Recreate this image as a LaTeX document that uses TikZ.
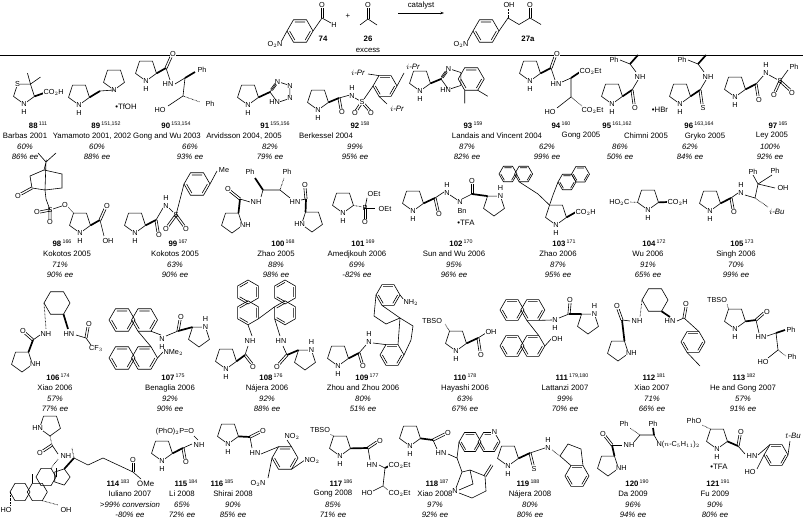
\documentclass[tikz,border=0pt]{standalone}
\usepackage{fontspec}
\setmainfont{Liberation Sans}
\usetikzlibrary{shapes.geometric,calc,arrows.meta}
\tikzset{
 pent5/.style={regular polygon, regular polygon sides=5, minimum size=22pt, draw, inner sep=0pt, outer sep=0pt, line width=0.6pt},
 hex6/.style={regular polygon, regular polygon sides=6, minimum size=24pt, draw, inner sep=0pt, outer sep=0pt, line width=0.6pt},
 bd/.style={line width=0.6pt},
 wdg/.style={line width=1.7pt},
 hsh/.style={line width=0.7pt, dash pattern=on 0.6pt off 0.8pt},
 dbl/.style={line width=0.6pt, to path={($(\tikztostart)!1.1pt!90:(\tikztotarget)$)--($(\tikztotarget)!1.1pt!-90:(\tikztostart)$) ($(\tikztostart)!1.1pt!-90:(\tikztotarget)$)--($(\tikztotarget)!1.1pt!90:(\tikztostart)$)}},
 atm/.style={fill=white, inner sep=0.4pt, font=\fontsize{7.3}{8}\selectfont},
 lb/.style={inner sep=0pt, font=\fontsize{7.8}{9}\selectfont},
 it/.style={inner sep=0pt, font=\fontsize{7.8}{9}\selectfont\itshape},
 nm/.style={inner sep=0pt, font=\fontsize{7.8}{9}\selectfont\bfseries}
}
\newcommand\pyr[2]{\node[pent5,rotate=180] (#1) at (#2) {};}
\newcommand\pen[4]{\node[pent5,minimum size=#3,rotate=#4] (#1) at (#2) {};}
\newcommand\hexa[4]{\node[hex6,minimum size=#3,rotate=#4] (#1) at (#2) {};}
\newcommand\arom[1]{\draw[bd] ($(#1.corner 1)!0.2!(#1.center)$)--($(#1.corner 2)!0.2!(#1.center)$) ($(#1.corner 3)!0.2!(#1.center)$)--($(#1.corner 4)!0.2!(#1.center)$) ($(#1.corner 5)!0.2!(#1.center)$)--($(#1.corner 6)!0.2!(#1.center)$);}
\newcommand\atx[2]{\node[atm] at (#1) {#2};}
\newcommand\NH[1]{\node[atm] at (#1.corner 1) {N}; \node[atm] at ($(#1.corner 1)+(0,7.5)$) {H};}
\newcommand\entry[9]{%
 \node[nm] at ({#1},{#2}) {#3\,\raisebox{3pt}{\fontsize{5.3}{6}\selectfont\mdseries #4}};
 \node[lb] at ({#5},{#2+11}) {#6};
 \node[it] at ({#7},{#2+21.5}) {#8};
 \node[it] at ({#7},{#2+32}) {#9};}
\begin{document}
\begin{tikzpicture}[x=1pt,y=-1pt]
\useasboundingbox (0,0) rectangle (803,521);
% ---------- reaction scheme
\hexa{r74}{300,31}{26pt}{0}\arom{r74}
\draw[bd] (r74.corner 6)--(322,18); \draw[dbl] (322,18) to (322,8); \atx{322,5}{O}
\draw[bd] (322,18)--(331,23); \atx{334,25}{H}
\draw[bd] (r74.corner 3)--(281,42); \node[atm] at (275,44) {O$_2$N};
\node[nm] (n74) at (323,39) {74};
\node[lb] at (348,16) {+};
\draw[bd] (360,25)--(368,19)--(377,25); \draw[dbl] (368,19) to (368,8); \atx{368,5}{O}
\node[nm] (n26) at (368,39) {26};
\node[lb] at (368,50) {excess};
\coordinate (a1) at (398,13); \coordinate (a2) at (444,13);
\draw[bd,-{Stealth[length=3.5pt,width=2.5pt]}] (a1)--(a2);
\node[lb] at (421,5) {catalyst};
\hexa{r27}{486,31}{26pt}{0}\arom{r27}
\draw[bd] (r27.corner 6)--(508,18)--(519,24.5)--(530,18)--(541,24.5);
\draw[hsh] (508,18)--(508,9); \atx{509,5}{OH}
\draw[dbl] (530,18) to (530,8); \atx{530,5}{O}
\draw[bd] (r27.corner 3)--(467,42); \node[atm] at (461,44) {O$_2$N};
\node[nm] at (528,39) {27a};
\draw[line width=0.6pt] (0,55)--(803,55);
% ---------- row 1
\pyr{p88}{24,93}\NH{p88}\atx{p88.corner 4}{S}
\draw[bd] (p88.corner 3)--++(-3,-11) (p88.corner 3)--++(10,-7);
\draw[wdg] (p88.corner 2)--(44,93); \node[atm,anchor=west] at (43,92) {CO$_2$H};
\pyr{p89a}{79,94}\NH{p89a}
\pyr{p89b}{114,79}\atx{p89b.corner 1}{N}
\draw[wdg] (p89a.corner 2)--(100,91); \draw[bd] (100,91)--(p89b.corner 1);
\node[lb] at (126,107) {\textbullet TfOH};
\pyr{p90}{146,70}\NH{p90}
\draw[wdg] (p90.corner 2)--(166,68); \draw[dbl] (166,68) to (171,57); \atx{173,54}{O}
\draw[bd] (166,68)--(170,80); \atx{168,84}{HN}
\draw[bd] (175,84)--(185,78); \draw[wdg] (185,78)--(195,72); \atx{202,70}{Ph}
\draw[bd] (185,78)--(183,96); \draw[bd] (183,96)--(168,106); \atx{160,110}{HO}
\draw[hsh] (183,96)--(200,102); \atx{210,104}{Ph}
\pyr{p91}{248,94}\NH{p91}
\pen{t91}{281,92}{22pt}{90}
\draw[wdg] (p91.corner 2)--(t91.corner 1);
\draw[dbl] ($(t91.corner 1)!0.2!(t91.corner 5)$) to ($(t91.corner 5)!0.25!(t91.corner 1)$);
\atx{t91.corner 5}{N}\atx{t91.corner 4}{N}\atx{t91.corner 3}{N}\node[atm] at ($(t91.corner 2)+(-3,0)$) {HN};
\pyr{p92}{318,99}\NH{p92}
\draw[wdg] (p92.corner 2)--(339,98); \draw[dbl] (339,98) to (341,109); \atx{342,112}{O}
\draw[bd] (339,98)--(350,95); \atx{352,96}{N}\atx{352,88}{H}
\hexa{h92}{385,86}{24pt}{0}\arom{h92}
\draw[bd] (355,98)--(362,102)--(h92.corner 3);
\draw[dbl] (362,102) to (356,111) (362,102) to (370,111);
\atx{362,102}{S}\atx{355,113}{O}\atx{371,113}{O}
\draw[bd] (h92.corner 2)--(368,74); \node[it] at (358,73) {$i$-Pr};
\draw[bd] (h92.corner 6)--(404,73); \node[it] at (413,67) {$i$-Pr};
\draw[bd] (h92.corner 4)--(387,104); \node[it] at (397,109) {$i$-Pr};
\pyr{p93}{420,80}\NH{p93}
\pen{i93}{452,79}{22pt}{90}
\draw[wdg] (p93.corner 2)--(i93.corner 1);
\draw[dbl] ($(i93.corner 1)!0.15!(i93.corner 5)$) to ($(i93.corner 5)!0.3!(i93.corner 1)$);
\atx{i93.corner 5}{N}\node[atm] at ($(i93.corner 2)+(-3,1)$) {HN};
\hexa{b93}{471.2,79}{26pt}{0}\arom{b93}
\draw[bd] (b93.corner 5)--++(10,6) (b93.corner 4)--++(0,13);
\pyr{p94}{530,70}\NH{p94}
\draw[wdg] (p94.corner 2)--(551,68); \draw[dbl] (551,68) to (555,57); \atx{557,54}{O}
\draw[bd] (551,68)--(555,80); \atx{556,84}{HN}
\draw[bd] (562,82)--(571,78); \draw[wdg] (571,78)--(580,72); \node[atm,anchor=west] at (579,71) {CO$_2$Et};
\draw[bd] (571,78)--(571,97)--(557,108); \atx{550,112}{HO}
\draw[hsh] (571,97)--(582,106); \node[atm,anchor=west] at (581,110) {CO$_2$Et};
\pyr{p95}{612,93}\NH{p95}
\draw[wdg] (p95.corner 2)--(632,90); \draw[dbl] (632,90) to (634,104); \atx{635,108}{O}
\draw[bd] (632,90)--(638,80); \atx{640,77}{NH}
\draw[bd] (636,72)--(630,64); \draw[bd] (630,64)--(620,60); \atx{614,60}{Ph}
\draw[wdg] (630,64)--(638,55);
\node[lb] at (660,110) {\textbullet HBr};
\pyr{p96}{680,93}\NH{p96}
\draw[wdg] (p96.corner 2)--(700,90); \draw[dbl] (700,90) to (702,104); \atx{703,108}{S}
\draw[bd] (700,90)--(706,80); \atx{708,77}{NH}
\draw[bd] (704,72)--(698,64); \draw[bd] (698,64)--(688,60); \atx{682,60}{Ph}
\draw[wdg] (698,64)--(706,55);
\pyr{p97}{735,86}\NH{p97}
\draw[wdg] (p97.corner 2)--(756,84); \draw[dbl] (756,84) to (758,96); \atx{759,100}{O}
\draw[bd] (756,84)--(764,75); \atx{766,73}{N}\atx{766,65}{H}
\draw[bd] (769,75)--(780,81); \atx{780,81}{S}
\draw[dbl] (780,81) to (775,92) (780,81) to (790,90); \atx{774,95}{O}\atx{792,93}{O}
\draw[bd] (780,81)--(788,70); \atx{794,67}{Ph}
\entry{38}{125}{88}{111}{25}{Barbas 2001}{25}{60\%}{86\% ee}
\entry{106}{125}{89}{151,152}{92}{Yamamoto 2001, 2002}{97}{60\%}{88\% ee}
\entry{176}{125}{90}{153,154}{167}{Gong and Wu 2003}{190}{66\%}{93\% ee}
\entry{275}{125}{91}{155,156}{244}{Arvidsson 2004, 2005}{270}{82\%}{79\% ee}
\entry{360}{125}{92}{158}{326}{Berkessel 2004}{355}{99\%}{95\% ee}
\entry{473}{125}{93}{159}{497}{Landais and Vincent 2004}{467}{87\%}{82\% ee}
\entry{561}{125}{94}{160}{581}{Gong 2005}{547}{62\%}{99\% ee}
\entry{617}{125}{95}{161,162}{646}{Chimni 2005}{620}{86\%}{50\% ee}
\entry{699}{125}{96}{163,164}{705}{Gryko 2005}{690}{62\%}{84\% ee}
\entry{778}{125}{97}{165}{772}{Ley 2005}{770}{100\%}{92\% ee}
% ---------- row 2
\pyr{p98}{80,222}\NH{p98}
\draw[wdg] (p98.corner 2)--(100,220); \draw[dbl] (100,220) to (105,209); \atx{107,206}{O}
\draw[bd] (100,220)--(104,236); \atx{108,241}{OH}
\draw[hsh] (p98.corner 4)--(67,206); \atx{65,205}{O}
\draw[bd] (62,206)--(50,210); \atx{50,210}{S}
\draw[dbl] (50,210) to (40,212) (50,210) to (50,220); \atx{37,212}{O}\atx{50,222}{O}
\draw[bd] (50,210)--(46,199)--(45,190);
\draw[bd] (45,190)--(32,188)--(30,176)--(44,170)--(62,174)--(62,188)--(45,190) (45,190)--(46,162)--(44,170) (46,162)--(38,153) (46,162)--(56,153);
\draw[dbl] (32,188) to (21,194); \atx{18,196}{O}
\pyr{p99}{135,222}\NH{p99}
\draw[wdg] (p99.corner 2)--(156,220); \draw[dbl] (156,220) to (158,232); \atx{159,235}{O}
\draw[bd] (156,220)--(163,208); \atx{166,206}{N}\atx{166,198}{H}
\draw[bd] (169,208)--(176,215); \atx{176,215}{S}
\draw[dbl] (176,215) to (168,226) (176,215) to (184,226); \atx{166,229}{O}\atx{186,229}{O}
\hexa{h99}{197,184}{26pt}{0}\arom{h99}
\draw[bd] (176,215)--(h99.corner 3); \draw[bd] (h99.corner 6)--(217,171); \atx{224,170}{Me}
\pyr{p100a}{232,222}\node[atm] at ($(p100a.corner 2)+(3,0)$) {NH};
\draw[wdg] (p100a.corner 3)--(240,199); \draw[dbl] (240,199) to (230,191); \atx{228,189}{O}
\draw[bd] (240,199)--(250,202); \atx{256,202}{NH}
\draw[bd] (261,197)--(263,190)--(280,190)--(290,198); \atx{295,202}{HN}
\draw[wdg] (263,190)--(255,178); \atx{250,172}{Ph}
\draw[hsh] (280,190)--(284,178); \atx{287,172}{Ph}
\draw[bd] (301,200)--(306,199); \draw[dbl] (306,199) to (305,188); \atx{305,185}{O}
\pyr{p100b}{312,221}\node[atm] at ($(p100b.corner 5)+(-2,0)$) {HN};
\draw[wdg] (306,199)--(p100b.corner 4);
\pyr{p101}{343,202}\NH{p101}
\draw[hsh] (p101.corner 2)--(363,207); \atx{365,208}{P}
\draw[bd] (365,208)--(367,198); \atx{374,194}{OEt}
\draw[bd] (365,208)--(375,208); \atx{385,209}{OEt}
\draw[dbl] (365,208) to (365,219); \atx{365,222}{O}
\pyr{p102a}{413,200}\NH{p102a}
\draw[wdg] (p102a.corner 2)--(435,198); \draw[dbl] (435,198) to (438,211); \atx{439,214}{O}
\draw[bd] (435,198)--(444,192); \atx{447,193}{N}\atx{447,185}{H}
\draw[bd] (450,195)--(459,201); \atx{460,202}{N}\atx{462,211}{Bn}
\draw[bd] (462,199)--(472,194); \draw[dbl] (472,194) to (472,184); \atx{472,181}{O}
\pyr{p102b}{494,205}\atx{p102b.corner 3}{N}\node[atm] at ($(p102b.corner 3)+(0,-8)$) {H};
\draw[wdg] (472,194)--(p102b.corner 4);
\node[lb] at (466,223) {\textbullet TFA};
\pyr{p103}{556,214}\NH{p103}
\draw[wdg] (p103.corner 2)--(576,212); \node[atm,anchor=west] at (575,212) {CO$_2$H};
\hexa{n103a}{508,174}{18pt}{0}\hexa{n103b}{523.6,174}{18pt}{0}\arom{n103a}\arom{n103b}
\draw[bd] (n103b.corner 4)--(538,194)--(p103.corner 4);
\hexa{n103c}{567,182}{18pt}{0}\hexa{n103d}{580.5,174.2}{18pt}{0}\arom{n103c}\arom{n103d}
\draw[bd] (n103c.corner 3)--(553,195)--(p103.corner 4);
\pyr{p104}{648,199}\NH{p104}
\draw[wdg] (p104.corner 2)--(668,202); \node[atm,anchor=west] at (667,202) {CO$_2$H};
\draw[hsh] (p104.corner 5)--(629,202); \node[atm,anchor=east] at (630,202) {HO$_2$C};
\pyr{p105}{710,200}\NH{p105}
\draw[wdg] (p105.corner 2)--(731,198); \draw[dbl] (731,198) to (733,209); \atx{734,212}{O}
\draw[bd] (731,198)--(738,193); \atx{741,193}{N}\atx{741,185}{H}
\draw[bd] (745,195)--(755,198)--(758,184);
\draw[hsh] (755,198)--(768,207); \node[it] at (777,212) {$i$-Bu};
\draw[bd] (758,184)--(753,175) (758,184)--(772,175) (758,184)--(775,188);
\atx{753,172}{Ph}\atx{775,171}{Ph}\atx{783,188}{OH}
\entry{62}{243}{98}{166}{67}{Kokotos 2005}{60}{71\%}{90\% ee}
\entry{178}{243}{99}{167}{175}{Kokotos 2005}{175}{63\%}{90\% ee}
\entry{283}{243}{100}{168}{276}{Zhao 2005}{276}{88\%}{98\% ee}
\entry{363}{243}{101}{169}{357}{Amedjkouh 2006}{357}{69\%}{-82\% ee}
\entry{461}{243}{102}{170}{454}{Sun and Wu 2006}{454}{95\%}{96\% ee}
\entry{564}{243}{103}{171}{558}{Zhao 2006}{558}{87\%}{95\% ee}
\entry{654}{243}{104}{172}{648}{Wu 2006}{648}{91\%}{65\% ee}
\entry{742}{243}{105}{173}{736}{Singh 2006}{736}{70\%}{99\% ee}
% ---------- row 3
\hexa{h106}{57,303}{26pt}{0}
\draw[hsh] (h106.corner 3)--(46,329); \atx{46,334}{NH}
\draw[wdg] (h106.corner 5)--(68,329); \atx{69,334}{HN}
\draw[bd] (40,335)--(33,340); \draw[dbl] (33,340) to (25,333); \atx{23,331}{O}
\pyr{p106}{22,361}\node[atm] at ($(p106.corner 2)+(3,0)$) {NH};
\draw[wdg] (p106.corner 3)--(33,340);
\draw[bd] (76,335)--(86,338); \draw[dbl] (86,338) to (88,327); \atx{89,324}{O}
\draw[bd] (86,338)--(91,345); \node[atm] at (96,348) {CF$_3$};
\hexa{u107a}{122,320}{26pt}{0}\hexa{u107b}{144.5,320}{26pt}{0}\arom{u107a}\arom{u107b}
\hexa{l107a}{122,358}{26pt}{0}\hexa{l107b}{144.5,358}{26pt}{0}\arom{l107a}\arom{l107b}
\draw[bd] (u107b.corner 4)--(l107b.corner 1);
\draw[bd] (u107b.corner 5)--(161,335); \atx{162,339}{N}\atx{162,347}{H}
\draw[bd] (166,336)--(178,331); \draw[dbl] (178,331) to (180,320); \atx{181,317}{O}
\pyr{p107}{199,336}\atx{p107.corner 3}{N}\node[atm] at ($(p107.corner 3)+(0,-8)$) {H};
\draw[wdg] (178,331)--(p107.corner 4);
\draw[bd] (l107b.corner 6)--(163,352); \node[atm,anchor=west] at (163,352) {NMe$_2$};
\hexa{a108a}{248,292}{24pt}{30}\hexa{a108b}{248,312.8}{24pt}{30}\arom{a108a}\arom{a108b}
\hexa{b108a}{285,292}{24pt}{30}\hexa{b108b}{285,312.8}{24pt}{30}\arom{b108a}\arom{b108b}
\draw[bd] (a108b.corner 5)--(b108b.corner 2);
\draw[bd] (a108b.corner 4)--(252,336); \atx{250,341}{NH}
\draw[bd] (b108b.corner 3)--(280,336); \atx{281,341}{HN}
\draw[bd] (248,346)--(245,355); \draw[dbl] (245,355) to (252,364); \atx{253,367}{O}
\pyr{p108a}{226,358}\NH{p108a}
\draw[wdg] (245,355)--(p108a.corner 2);
\draw[bd] (283,346)--(287,355); \draw[dbl] (287,355) to (279,364); \atx{277,367}{O}
\pyr{p108b}{305,359}\atx{p108b.corner 3}{N}\node[atm] at ($(p108b.corner 3)+(0,-8)$) {H};
\draw[wdg] (287,355)--(p108b.corner 4);
\pyr{p109}{338,355}\NH{p109}
\draw[wdg] (p109.corner 2)--(359,353); \draw[dbl] (359,353) to (362,363); \atx{363,366}{O}
\draw[bd] (359,353)--(366,345); \atx{369,342}{N}\atx{369,334}{H}
\hexa{h109a}{392,355}{24pt}{0}\arom{h109a}
\draw[bd] (373,343)--(h109a.corner 2);
\hexa{h109b}{388,295}{24pt}{0}\arom{h109b}
\draw[bd] (h109b.corner 6)--(404,300); \node[atm,anchor=west] at (403,302) {NH$_2$};
\draw[bd] (h109b.corner 4)--(400,318) (h109b.corner 3)--(374,316)--(386,324)--(400,318);
\draw[bd] (400,318)--(h109a.corner 1) (400,318)--(413,326)--(411,340)--(h109a.corner 6);
\pyr{p110}{456,340}\NH{p110}
\draw[hsh] (p110.corner 4)--(445,324); \node[atm] at (432,321) {TBSO};
\draw[wdg] (p110.corner 2)--(478,338); \draw[bd] (478,338)--(486,333); \atx{491,332}{OH}
\draw[dbl] (478,338) to (480,351); \atx{481,355}{O}
\hexa{u111a}{512,310}{24pt}{0}\hexa{u111b}{532.8,310}{24pt}{0}\arom{u111a}\arom{u111b}
\hexa{l111a}{512,346}{24pt}{0}\hexa{l111b}{532.8,346}{24pt}{0}\arom{l111a}\arom{l111b}
\draw[bd] (u111b.corner 4)--(l111b.corner 1);
\draw[bd] (u111b.corner 5)--(552,320); \atx{555,320}{N}\atx{555,328}{H}
\draw[bd] (559,318)--(569,314); \draw[dbl] (569,314) to (570,303); \atx{570,300}{O}
\pyr{p111}{588,323}\atx{p111.corner 3}{N}\node[atm] at ($(p111.corner 3)+(0,-8)$) {H};
\draw[wdg] (569,314)--(p111.corner 4);
\draw[bd] (l111b.corner 6)--(552,338); \node[atm,anchor=west] at (551,339) {OH};
\hexa{h112}{655,300}{26pt}{0}
\draw[hsh] (h112.corner 3)--(640,317); \atx{637,321}{NH}
\draw[wdg] (h112.corner 5)--(670,317); \atx{670,321}{HN}
\draw[bd] (630,321)--(622,320); \draw[dbl] (622,320) to (618,309); \atx{617,306}{O}
\pyr{p112}{618,350}\node[atm] at ($(p112.corner 2)+(3,0)$) {NH};
\draw[wdg] (p112.corner 3)--(622,320);
\draw[bd] (677,321)--(684,318); \draw[dbl] (684,318) to (686,307); \atx{686,304}{O}
\hexa{h112b}{693,342}{24pt}{0}\arom{h112b}
\draw[bd] (684,318)--(h112b.corner 1) (h112b.corner 4)--(700,366);
\pyr{p113}{735,318}\NH{p113}
\draw[hsh] (p113.corner 4)--(727,304); \node[atm] at (717,300) {TBSO};
\draw[wdg] (p113.corner 2)--(756,320); \draw[dbl] (756,320) to (764,313); \atx{767,312}{O}
\draw[bd] (756,320)--(759,333); \atx{761,337}{HN}
\draw[bd] (767,336)--(776,333); \draw[wdg] (776,333)--(785,330); \atx{791,330}{Ph}
\draw[bd] (776,333)--(778,350)--(768,358); \atx{763,362}{HO}
\draw[hsh] (778,350)--(786,356); \atx{792,357}{Ph}
\entry{58}{377}{106}{174}{55}{Xiao 2006}{55}{57\%}{77\% ee}
\entry{173}{377}{107}{175}{170}{Benaglia 2006}{170}{92\%}{90\% ee}
\entry{271}{377}{108}{176}{267}{N\'ajera 2006}{267}{92\%}{88\% ee}
\entry{367}{377}{109}{177}{363}{Zhou and Zhou 2006}{363}{80\%}{51\% ee}
\entry{465}{377}{110}{178}{465}{Hayashi 2006}{465}{63\%}{67\% ee}
\entry{572}{377}{111}{179,180}{565}{Lattanzi 2007}{565}{99\%}{70\% ee}
\entry{654}{377}{112}{181}{652}{Xiao 2007}{652}{71\%}{66\% ee}
\entry{744}{377}{113}{182}{743}{He and Gong 2007}{743}{57\%}{91\% ee}
% ---------- row 4
\hexa{s114a}{20,492}{20pt}{0}\hexa{s114b}{37.3,492}{20pt}{0}\hexa{s114c}{46,477}{20pt}{0}
\node[pent5,minimum size=17pt,rotate=-90] (s114d) at (61.6,477) {};
\draw[hsh] (s114a.corner 3)--(10,505); \atx{6,510}{HO}
\draw[hsh] (s114b.corner 5)--(58,505); \atx{66,510}{OH}
\draw[bd] (s114b.corner 2)--++(0,-9) (s114c.corner 6)--++(0,-9);
\draw[hsh] (s114c.corner 1)--(58,459); \atx{66,456}{NH}
\draw[bd] (58,454)--(52,445); \draw[dbl] (52,445) to (43,451); \atx{40,453}{O}
\pyr{p114}{50,425}\node[atm] at ($(p114.corner 5)+(-2,0)$) {HN};
\draw[hsh] (52,445)--(p114.corner 1);
\draw[wdg] (s114d.corner 2)--(74,458); \draw[hsh] (74,458)--(72,448);
\draw[bd] (74,458)--(88,465)--(103,458)--(118,465)--(133,472); \draw[dbl] (133,472) to (133,463); \atx{133,460}{O}
\draw[bd] (133,472)--(141,479); \node[lb,anchor=west] at (137,484) {OMe};
\pyr{p115}{162,450}\NH{p115}
\draw[wdg] (p115.corner 2)--(183,448); \draw[dbl] (183,448) to (185,459); \atx{186,462}{O}
\draw[bd] (183,448)--(192,444); \atx{199,445}{NH}
\draw[bd] (198,440)--(193,435); \node[atm] at (175,432) {(PhO)$_2$P=O};
\pyr{p116}{228,433}\NH{p116}
\draw[wdg] (p116.corner 2)--(250,437); \draw[dbl] (250,437) to (260,432); \atx{263,431}{O}
\draw[bd] (250,437)--(252,448); \atx{255,453}{HN}
\hexa{h116}{285,458}{26pt}{0}\arom{h116}
\draw[bd] (261,454)--(h116.corner 2);
\draw[bd] (h116.corner 1)--(287,440); \node[atm,anchor=west] at (284,436) {NO$_2$};
\draw[bd] (h116.corner 5)--(305,460); \node[atm,anchor=west] at (304,460) {NO$_2$};
\draw[bd] (h116.corner 3)--(268,478); \node[atm] at (258,483) {O$_2$N};
\pyr{p117}{340,445}\NH{p117}
\draw[hsh] (p117.corner 4)--(330,434); \node[atm] at (320,430) {TBSO};
\draw[wdg] (p117.corner 2)--(368,448); \draw[dbl] (368,448) to (377,442); \atx{380,441}{O}
\draw[bd] (368,448)--(370,460); \atx{372,465}{HN}
\draw[bd] (379,465)--(385,468); \draw[wdg] (385,468)--(389,466); \node[atm,anchor=west] at (388,465) {CO$_2$Et};
\draw[bd] (385,468)--(383,486)--(373,491); \atx{367,493}{HO}
\draw[hsh] (383,486)--(389,491); \node[atm,anchor=west] at (388,493) {CO$_2$Et};
\pyr{p118}{410,435}\NH{p118}
\draw[wdg] (p118.corner 2)--(433,440); \draw[dbl] (433,440) to (445,434); \atx{448,433}{O}
\draw[bd] (433,440)--(437,449); \atx{441,453}{HN}
\hexa{q118a}{470,442}{22pt}{0}\hexa{q118b}{489,442}{22pt}{0}\arom{q118a}\arom{q118b}
\atx{q118b.corner 1}{N}
\draw[bd] (448,454)--(457,458)--(q118a.corner 3);
\draw[bd] (457,458)--(462,472)--(456,488); \atx{455,491}{N}
\draw[bd] (459,493)--(472,498)--(486,491)--(485,476)--(470,470)--(462,472) (470,470)--(473,484)--(459,490);
\draw[dbl] (485,476) to (492,465);
\pyr{p119}{508,455}\NH{p119}
\draw[wdg] (p119.corner 2)--(530,453); \draw[dbl] (530,453) to (533,465); \atx{534,469}{S}
\draw[bd] (530,453)--(545,448); \atx{548,448}{N}\atx{548,440}{H}
\hexa{h119}{577,476}{24pt}{0}\arom{h119}
\draw[hsh] (552,450)--(560,456);
\draw[bd] (560,456)--(h119.corner 2) (560,456)--(568,444)--(581,449)--(h119.corner 1);
\pyr{p120}{608,465}\node[atm] at ($(p120.corner 2)+(3,0)$) {NH};
\draw[wdg] (p120.corner 3)--(612,445); \draw[dbl] (612,445) to (605,436); \atx{603,434}{O}
\draw[bd] (612,445)--(622,445); \atx{629,445}{NH}
\draw[bd] (634,442)--(640,435)--(654,435)--(658,442);
\draw[hsh] (640,435)--(630,428); \atx{624,424}{Ph}
\draw[wdg] (654,435)--(653,428); \atx{653,424}{Ph}
\node[atm,anchor=west] at (656,445) {N($n$-C$_5$H$_{11}$)$_2$};
\pyr{p121}{717,438}\NH{p121}
\draw[hsh] (p121.corner 4)--(702,425); \node[atm] at (694,421) {PhO};
\draw[wdg] (p121.corner 2)--(738,446); \draw[dbl] (738,446) to (740,435); \atx{741,432}{O}
\draw[bd] (738,446)--(745,454); \atx{752,456}{HN}
\node[lb] at (719,467) {\textbullet TFA};
\hexa{h121}{776,455}{24pt}{0}\arom{h121}
\draw[bd] (758,455)--(h121.corner 2) (h121.corner 3)--(757,469) (h121.corner 6)--(790,441);
\atx{750,472}{HO}\node[it,fill=white] at (793,436) {$t$-Bu};
\node[nm] at (118,483) {114\,\raisebox{3pt}{\fontsize{5.3}{6}\selectfont\mdseries 183}};
\node[lb] at (130,494) {Iuliano 2007};
\node[it] at (130,504.5) {>99\% conversion};
\node[it] at (130,515) {-80\% ee};
\entry{186}{483}{115}{184}{182}{Li 2008}{182}{65\%}{72\% ee}
\entry{222}{483}{116}{185}{233}{Shirai 2008}{233}{90\%}{85\% ee}
\entry{341}{483}{117}{186}{333}{Gong 2008}{333}{85\%}{71\% ee}
\entry{437}{483}{118}{187}{435}{Xiao 2008}{435}{97\%}{92\% ee}
\entry{528}{483}{119}{188}{530}{N\'ajera 2008}{530}{80\%}{80\% ee}
\entry{637}{483}{120}{190}{633}{Da 2009}{633}{96\%}{94\% ee}
\entry{718}{483}{121}{191}{715}{Fu 2009}{715}{90\%}{80\% ee}
\end{tikzpicture}
\end{document}
